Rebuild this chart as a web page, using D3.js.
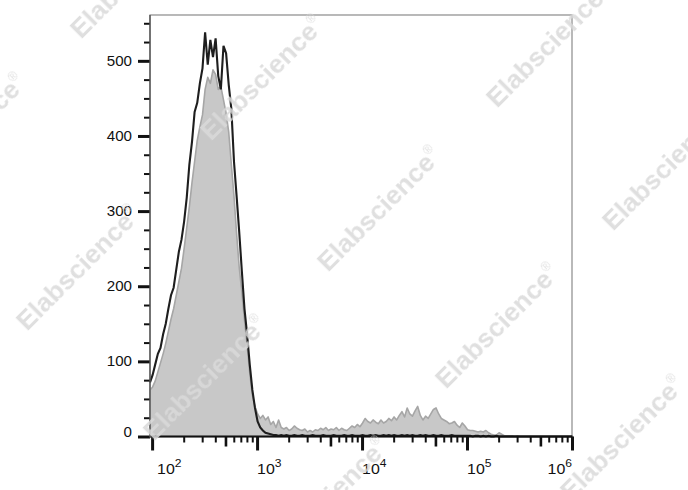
<!DOCTYPE html>
<html><head><meta charset="utf-8">
<script src="https://cdn.jsdelivr.net/npm/d3@7"></script>
<style>
body{margin:0;background:#fff;}
svg{display:block;font-family:Arial,"Liberation Sans",Helvetica,sans-serif;}
</style>
</head><body>
<svg id="chart" width="688" height="490"></svg>
<script>
// ---------- data ----------
// histogram channel bins (log10 of fluorescence), regular width
const binStartLog = 1.98;
const binStepLog = 0.025;
// unstained / isotype control (dark outline)
const controlCounts = [
  72, 82, 96, 110, 118, 136, 150, 170, 188, 198,
  222, 246, 262, 286, 318, 362, 392, 432, 444, 470,
  490, 538, 495, 528, 505, 530, 480, 462, 520, 510,
  468, 436, 366, 320, 272, 220, 170, 136, 96, 62,
  38, 20, 12, 8, 5, 4, 3, 2, 2, 1,
  2, 1, 2, 1, 1, 2, 1, 1, 2, 1,
  1, 1, 2, 1, 1, 1, 2, 1, 1, 1,
  2, 1, 1, 1, 2, 1, 1, 2, 1, 1,
  1, 2, 1, 1, 2, 1, 2, 1, 1, 2,
  1, 2, 1, 2, 1, 1, 2, 1, 2, 1,
  2, 1, 1, 2, 1, 2, 1, 1, 2, 1,
  1, 2, 1, 1, 1, 2, 1, 1, 1, 1,
  1, 1, 1, 0, 1, 1, 0, 1, 0, 1,
  0, 0, 1, 0, 0, 0, 0, 0, 0, 0,
  0, 0, 0, 0, 0, 0, 0, 0, 0, 0,
  0, 0, 0, 0, 0, 0, 0, 0, 0, 0,
  0, 0
];
// stained sample (filled grey)
const stainedCounts = [
  62, 66, 74, 86, 98, 110, 124, 140, 156, 170,
  188, 206, 224, 250, 278, 306, 338, 366, 394, 412,
  428, 462, 478, 470, 488, 482, 462, 466, 448, 430,
  405, 362, 320, 270, 225, 192, 155, 122, 85, 55,
  40, 30, 24, 28, 22, 26, 16, 20, 12, 22,
  12, 10, 12, 8, 10, 14, 11, 9, 8, 10,
  6, 8, 6, 9, 8, 11, 9, 12, 8, 10,
  9, 12, 8, 11, 9, 8, 11, 14, 12, 16,
  13, 18, 24, 20, 18, 22, 19, 17, 22, 18,
  20, 24, 21, 26, 22, 28, 33, 26, 38, 30,
  27, 34, 40, 28, 22, 27, 24, 30, 36, 38,
  30, 24, 22, 20, 17, 18, 20, 15, 12, 18,
  14, 9, 8, 8, 7, 6, 7, 6, 8, 5,
  3, 2, 2, 5, 3, 1, 1, 1, 1, 0,
  1, 0, 0, 0, 0, 0, 0, 0, 0, 0,
  0, 0, 0, 0, 0, 0, 0, 0, 0, 0,
  0, 0
];
const yMajorTicks = [0, 100, 200, 300, 400, 500];
const yMinorStep = 25;
const xDecades = [2, 3, 4, 5, 6];
const watermarkText = "Elabscience";

// ---------- layout ----------
const W = 688, H = 490;
const plot = {left: 150, right: 572, top: 15, bottom: 436.5};
const yMax = 561;
const watermarkCenters = [
  [132, -24], [262, 78], [379, 209], [497, 326], [622, 438],
  [-36, 136], [78, 268], [205, 378], [326, 500],
  [548, 45], [664, 168]
];

const svg = d3.select("#chart");

const x = d3.scaleLog().domain([Math.pow(10, binStartLog), 1e6]).range([plot.left, plot.right]);
const y = d3.scaleLinear().domain([0, yMax]).range([plot.bottom, plot.top]);

const bins = controlCounts.map((_, i) => Math.pow(10, binStartLog + i * binStepLog));

// frame
svg.append("rect")
  .attr("x", plot.left).attr("y", plot.top)
  .attr("width", plot.right - plot.left).attr("height", plot.bottom - plot.top)
  .attr("fill", "none").attr("stroke", "#8a8a8a").attr("stroke-width", 1.2);

// stained filled histogram
const area = d3.area()
  .x((d, i) => x(bins[i]))
  .y0(y(0))
  .y1(d => y(d));
const line = d3.line()
  .x((d, i) => x(bins[i]))
  .y(d => y(d));

svg.append("path").datum(stainedCounts)
  .attr("d", area)
  .attr("fill", "#c8c8c8")
  .attr("stroke", "#a6a6a6").attr("stroke-width", 1.6).attr("stroke-linejoin", "round");

// control outline
svg.append("path").datum(controlCounts)
  .attr("d", line)
  .attr("fill", "none")
  .attr("stroke", "#1e1e1e").attr("stroke-width", 2.1).attr("stroke-linejoin", "miter");

// ---------- axes ----------
const minorVals = [], midVals = [];
for (let d = 2; d < 6; d++) {
  for (let m = 2; m <= 9; m++) {
    (m === 5 ? midVals : minorVals).push(m * Math.pow(10, d));
  }
}
const majorVals = xDecades.map(d => Math.pow(10, d));

function styleAxis(g, w) {
  g.select(".domain").remove();
  g.selectAll(".tick line").attr("stroke", "#111").attr("stroke-width", w);
  g.selectAll(".tick text").remove();
}
svg.append("g").attr("transform", `translate(0,${plot.bottom})`)
  .call(d3.axisBottom(x).tickValues(minorVals).tickSize(6).tickFormat(""))
  .call(g => styleAxis(g, 2));
svg.append("g").attr("transform", `translate(0,${plot.bottom})`)
  .call(d3.axisBottom(x).tickValues(midVals).tickSize(10).tickFormat(""))
  .call(g => styleAxis(g, 2.6));
svg.append("g").attr("transform", `translate(0,${plot.bottom})`)
  .call(d3.axisBottom(x).tickValues(majorVals).tickSize(14).tickFormat(""))
  .call(g => styleAxis(g, 3));

svg.append("line")
  .attr("x1", plot.left).attr("x2", plot.right)
  .attr("y1", plot.bottom).attr("y2", plot.bottom)
  .attr("stroke", "#111").attr("stroke-width", 2);

// x labels 10^n
xDecades.forEach((d, i) => {
  const px = x(Math.pow(10, d));
  const last = i === xDecades.length - 1;
  const shift = i === 0 ? 5 : 0;
  const t = svg.append("text")
    .attr("transform", `translate(${px + shift},474) scale(1.1,1)`)
    .attr("text-anchor", last ? "end" : "start")
    .attr("font-size", 14.5).attr("fill", "#111");
  t.append("tspan").text("10");
  t.append("tspan").attr("font-size", 11).attr("dy", -7.5).text(String(d));
});

// left axis
const yMinorVals = d3.range(0, yMax, yMinorStep).filter(v => v % 100 !== 0);
svg.append("g").attr("transform", `translate(${plot.left},0)`)
  .call(d3.axisLeft(y).tickValues(yMinorVals).tickSize(6).tickFormat(""))
  .call(g => styleAxis(g, 2));
svg.append("g").attr("transform", `translate(${plot.left},0)`)
  .call(d3.axisLeft(y).tickValues(yMajorTicks).tickSize(12).tickFormat(""))
  .call(g => styleAxis(g, 3));
svg.append("line")
  .attr("x1", plot.left).attr("x2", plot.left)
  .attr("y1", plot.top).attr("y2", plot.bottom + 1)
  .attr("stroke", "#555").attr("stroke-width", 1.4);

yMajorTicks.forEach(v => {
  const py = y(v) + (v === 0 ? -4.5 : 0);
  svg.append("text")
    .attr("transform", `translate(132,${py}) scale(1.08,1)`)
    .attr("text-anchor", "end").attr("dy", "0.36em")
    .attr("font-size", 14).attr("fill", "#111")
    .text(d3.format("d")(v));
});

// ---------- watermark ----------
const wm = svg.append("g").attr("fill", "#dadada").attr("opacity", 0.85)
  .attr("font-weight", "bold").attr("font-size", 26.5);
watermarkCenters.forEach(([cx, cy]) => {
  const t = wm.append("text")
    .attr("transform", `translate(${cx},${cy}) rotate(-45)`)
    .attr("text-anchor", "middle").attr("dy", "0.35em");
  t.append("tspan").text(watermarkText);
  t.append("tspan").attr("font-size", 12).attr("font-weight", "normal").attr("dy", -12).text("®");
});
</script>
</body></html>
